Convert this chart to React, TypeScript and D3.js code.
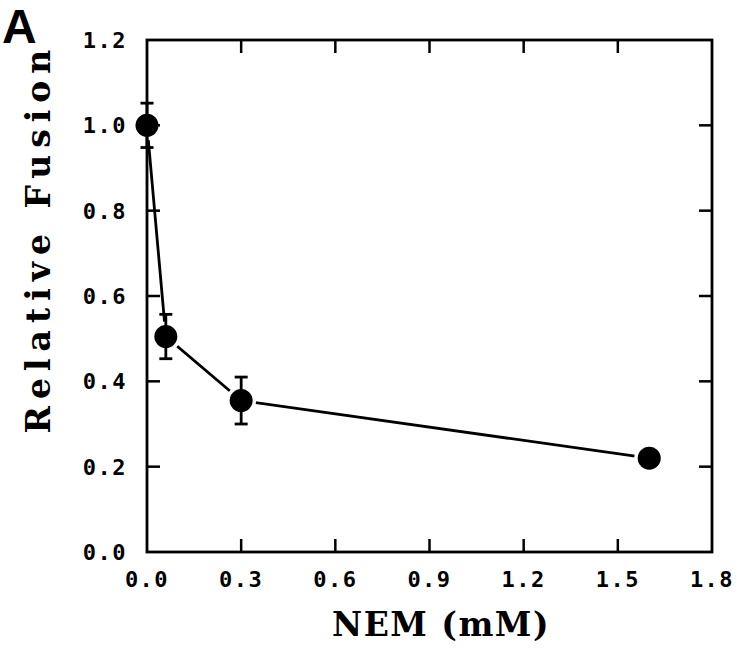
import * as d3 from "d3";

// NEM concentration (mM) vs relative fusion
const nem = [0, 0.06, 0.3, 1.6];
const fusion = [1.0, 0.505, 0.355, 0.22];
const fusionErr = [0.052, 0.052, 0.055, 0];
const xTicks = [0, 0.3, 0.6, 0.9, 1.2, 1.5, 1.8];
const yTicks = [0, 0.2, 0.4, 0.6, 0.8, 1.0, 1.2];

const W = 737;
const H = 657;
const m = { left: 147, right: 25, top: 40, bottom: 105 };

export default function App() {
  const x = d3.scaleLinear().domain([0, 1.8]).range([m.left, W - m.right]);
  const y = d3.scaleLinear().domain([0, 1.2]).range([H - m.bottom, m.top]);
  const pts = nem.map((v, i) => ({ x: x(v), y: y(fusion[i]), v: fusion[i], e: fusionErr[i] }));
  const line = d3
    .line<{ x: number; y: number }>()
    .x((d) => d.x)
    .y((d) => d.y);

  const x0 = x(0);
  const x1 = x(1.8);
  const y0 = y(0);
  const y1 = y(1.2);
  const tick = 13;
  const tickFont = "'DejaVu Sans Mono', monospace";
  const titleFont = "'DejaVu Serif', serif";

  return (
    <svg
      width={W}
      height={H}
      style={{ position: "absolute", left: 0, top: 0, background: "#fff" }}
    >
      <path d={line(pts) ?? ""} fill="none" stroke="#000" strokeWidth={2.8} />
      {pts.map((p, i) => (
        <circle key={"h" + i} cx={p.x} cy={p.y} r={15} fill="#fff" />
      ))}

      {/* frame */}
      <rect
        x={x0}
        y={y1}
        width={x1 - x0}
        height={y0 - y1}
        fill="none"
        stroke="#000"
        strokeWidth={2.8}
      />
      {xTicks.slice(1, -1).map((t) => (
        <g key={"xt" + t} stroke="#000" strokeWidth={2.5}>
          <line x1={x(t)} x2={x(t)} y1={y0} y2={y0 - tick} />
          <line x1={x(t)} x2={x(t)} y1={y1} y2={y1 + tick} />
        </g>
      ))}
      {yTicks.slice(1, -1).map((t) => (
        <g key={"yt" + t} stroke="#000" strokeWidth={2.5}>
          <line x1={x0} x2={x0 + tick} y1={y(t)} y2={y(t)} />
          <line x1={x1} x2={x1 - tick} y1={y(t)} y2={y(t)} />
        </g>
      ))}
      {xTicks.map((t) => (
        <text
          key={"xl" + t}
          x={x(t)}
          y={587}
          textAnchor="middle"
          fontFamily={tickFont}
          fontWeight="bold"
          fontSize={22}
          letterSpacing={1.5}
        >
          {t.toFixed(1)}
        </text>
      ))}
      {yTicks.map((t) => (
        <text
          key={"yl" + t}
          x={127}
          y={y(t) + 8}
          textAnchor="end"
          fontFamily={tickFont}
          fontWeight="bold"
          fontSize={22}
          letterSpacing={1.5}
        >
          {t.toFixed(1)}
        </text>
      ))}

      {/* error bars */}
      {pts
        .filter((p) => p.e > 0)
        .map((p, i) => {
          const yt = y(p.v + p.e);
          const yb = y(p.v - p.e);
          return (
            <g key={"e" + i} stroke="#000" strokeWidth={2.8}>
              <line x1={p.x} x2={p.x} y1={yt} y2={yb} />
              <line x1={p.x - 6.5} x2={p.x + 6.5} y1={yt} y2={yt} />
              <line x1={p.x - 6.5} x2={p.x + 6.5} y1={yb} y2={yb} />
            </g>
          );
        })}
      {pts.map((p, i) => (
        <circle key={"c" + i} cx={p.x} cy={p.y} r={11.5} fill="#000" />
      ))}

      <text
        x={441}
        y={636}
        textAnchor="middle"
        fontFamily={titleFont}
        fontWeight="bold"
        fontSize={33}
        letterSpacing={1.5}
      >
        NEM (mM)
      </text>
      <text
        transform={`translate(50,238) rotate(-90)`}
        textAnchor="middle"
        fontFamily={titleFont}
        fontWeight="bold"
        fontSize={33}
        letterSpacing={7}
      >
        Relative Fusion
      </text>
      <text
        x={2}
        y={43}
        fontFamily="'Liberation Sans', Arial, sans-serif"
        fontWeight="bold"
        fontSize={48}
      >
        A
      </text>
    </svg>
  );
}
